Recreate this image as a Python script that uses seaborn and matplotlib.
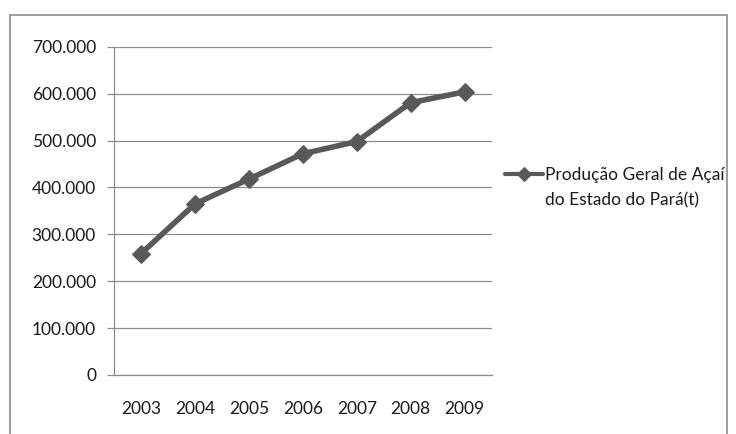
import matplotlib
matplotlib.use("Agg")
import matplotlib.pyplot as plt
from matplotlib.patches import Rectangle
from matplotlib.ticker import FuncFormatter, MultipleLocator
import seaborn as sns
import pandas as pd

anos = ["2003", "2004", "2005", "2006", "2007", "2008", "2009"]
producao = [259000, 365000, 418000, 472000, 498000, 581000, 604000]
serie_l1 = "Produção Geral de Açaí"
serie_l2 = "do Estado do Pará(t)"

df = pd.DataFrame({"ano": anos, "producao": producao})

sns.set_theme(style="white")
plt.rcParams["font.family"] = ["Lato", "DejaVu Sans"]

fig = plt.figure(figsize=(7.36, 4.34), dpi=100)
ax = fig.add_axes([0.155, 0.136, 0.513, 0.756])

grey_line = "#595959"
txt = "#1a1a1a"
fs = 12.5
sns.lineplot(
    data=df, x="ano", y="producao", ax=ax, color=grey_line,
    linewidth=4.0, marker="D", markersize=9.5, markeredgecolor=grey_line,
    label=serie_l1, sort=False,
)

ax.set_xlim(-0.5, 6.5)
ax.set_ylim(0, 700000)
ax.yaxis.set_major_locator(MultipleLocator(100000))
ax.yaxis.set_major_formatter(FuncFormatter(lambda v, p: f"{int(v):,}".replace(",", ".")))
ax.grid(axis="y", color="#8c8c8c", linewidth=0.9)
ax.set_axisbelow(True)
ax.set_xlabel("")
ax.set_ylabel("")

for s in ("top", "right"):
    ax.spines[s].set_visible(False)
for s in ("left", "bottom"):
    ax.spines[s].set_color("#8c8c8c")
    ax.spines[s].set_linewidth(0.9)

ax.tick_params(axis="y", which="major", left=True, length=5, width=0.9,
               color="#8c8c8c", pad=8, labelsize=fs, labelcolor=txt)
ax.tick_params(axis="x", which="major", bottom=False, pad=13,
               labelsize=fs, labelcolor=txt)

leg = ax.legend(loc="lower left", bbox_to_anchor=(1.035, 0.585), frameon=False,
                fontsize=fs, handlelength=2.2, handletextpad=0.1,
                borderaxespad=0, borderpad=0)
for t in leg.get_texts():
    t.set_color(txt)
for h in leg.legend_handles:
    h.set_linewidth(3.0)
    h.set_markersize(7.5)

# second line of the series name, aligned under the legend text
fig.canvas.draw()
bb = leg.get_texts()[0].get_window_extent()
fig.text(bb.x0 / fig.bbox.width, (bb.y0 - 25) / fig.bbox.height, serie_l2,
         fontsize=fs, color=txt, ha="left", va="bottom")

# chart area frame
fig.patches.append(Rectangle((10 / 736, -0.1), 717 / 736, 1.1 - 15 / 434,
                             transform=fig.transFigure, fill=False,
                             edgecolor="#8c8c8c", linewidth=1.2))

fig.savefig("out.png", dpi=100)
